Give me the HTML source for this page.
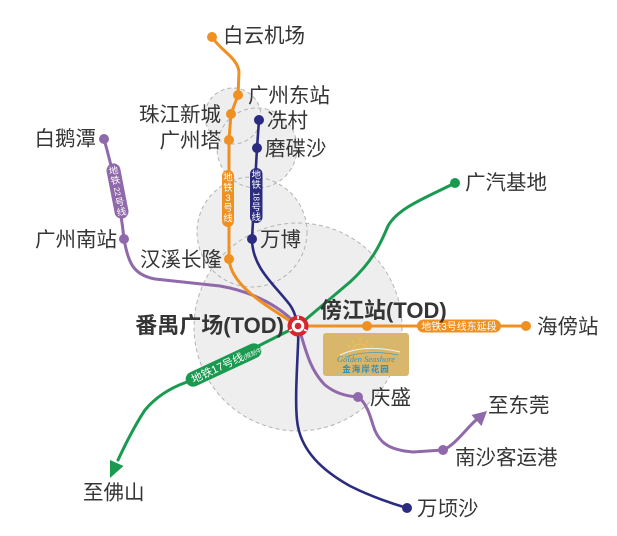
<!DOCTYPE html>
<html><head><meta charset="utf-8"><style>
html,body{margin:0;padding:0;background:#fff;}
svg{display:block;}
.lb{font-family:"Liberation Sans","Noto Sans CJK SC",sans-serif;font-size:20.5px;fill:#353535;}
.bd{font-family:"Liberation Sans","Noto Sans CJK SC",sans-serif;font-size:22px;font-weight:bold;fill:#353535;}
.pt{font-family:"Liberation Sans","Noto Sans CJK SC",sans-serif;font-size:9.5px;fill:#fff;}
.dg{font-family:"Liberation Sans",sans-serif;font-size:8px;fill:#fff;}
</style></head><body>
<svg width="617" height="536" viewBox="0 0 617 536" xmlns="http://www.w3.org/2000/svg">
<rect width="617" height="536" fill="#fff"/>
<!-- circle fills -->
<g fill="#eeeeee">
<circle cx="298" cy="327" r="104"/>
<circle cx="252" cy="232" r="55"/>
<circle cx="257" cy="148" r="40"/>
<circle cx="233" cy="116" r="28"/>
</g>
<g fill="none" stroke="#b4b4b4" stroke-width="1" stroke-dasharray="4 3">
<circle cx="298" cy="327" r="104"/>
<circle cx="252" cy="232" r="55"/>
<circle cx="257" cy="148" r="40"/>
<circle cx="233" cy="116" r="28"/>
</g>
<!-- lines -->
<g fill="none" stroke-width="3" stroke-linecap="round" stroke-linejoin="round">
<path stroke="#1a9a50" d="M455,183 C425,198 398,208 388,226 C380,245 372,262 350,282 L298,326 L187,382 C170,388 155,398 145,410 C135,425 125,445 118,460"/>
<path stroke="#8f69aa" d="M104,139 C110,160 120,200 124,239 C128,262 133,275 155,279 L220,286 C255,292 282,308 298,326 C305,345 308,368 325,385 C335,393 345,396 358,397 C366,402 370,415 373,425 C378,442 388,450 413,452 L443,450 C455,445 465,430 476,420"/>
<path stroke="#ef9020" d="M212,37 C220,50 238,58 239,72 L238,95 L231,114 L229,140 L229,259 C231,285 262,303 298,326"/>
<path stroke="#ef9020" d="M298,326 L526,326"/>
<path stroke="#2b2c80" stroke-width="2.6" d="M259,120 L257,148 L252,239 C252,268 275,285 290,305 C297,315 299,328 298,345 C297,370 295,400 297,420 C300,452 325,472 350,486 C372,497 390,503 407,508"/>
</g>
<!-- arrowheads -->
<polygon fill="#8f69aa" points="487,411 481.5,426 471.5,415"/>
<polygon fill="#1a9a50" points="110,478 110,460 123.5,466"/>
<!-- pills -->
<rect x="222" y="170" width="12" height="57" rx="6" fill="#ef9020"/>
<text class="pt" x="228" y="180.5" text-anchor="middle">地</text>
<text class="pt" x="228" y="191" text-anchor="middle">铁</text>
<text class="pt" x="228" y="201" text-anchor="middle">3</text>
<text class="pt" x="228" y="211" text-anchor="middle">号</text>
<text class="pt" x="228" y="221.5" text-anchor="middle">线</text>

<rect x="250" y="168" width="12.5" height="55" rx="6" fill="#2b2c80"/>
<text class="pt" x="256.3" y="178" text-anchor="middle">地</text>
<text class="pt" x="256.3" y="188" text-anchor="middle">铁</text>
<g transform="translate(256.3,196.5) rotate(90)"><text class="dg" x="0" y="3" text-anchor="middle">18</text></g>
<text class="pt" x="256.3" y="210.5" text-anchor="middle">号</text>
<text class="pt" x="256.3" y="220.5" text-anchor="middle">线</text>

<g transform="translate(117.5,191) rotate(-11)">
<rect x="-7" y="-28" width="14" height="56" rx="7" fill="#8f69aa"/>
<text class="pt" x="0" y="-17.5" text-anchor="middle">地</text>
<text class="pt" x="0" y="-7.5" text-anchor="middle">铁</text>
<g transform="translate(0,0.5) rotate(90)"><text class="dg" x="0" y="3" text-anchor="middle">22</text></g>
<text class="pt" x="0" y="14.5" text-anchor="middle">号</text>
<text class="pt" x="0" y="24.5" text-anchor="middle">线</text>
</g>
<g transform="translate(223.5,365) rotate(-25)">
<rect x="-41" y="-7.5" width="82" height="15" rx="7.5" fill="#1a9a50"/>
<text class="pt" x="-35" y="4" style="font-size:11px">地铁17号线<tspan style="font-size:6px">(规划中)</tspan></text>
</g>
<rect x="417" y="319.5" width="84" height="13" rx="6.5" fill="#ef9020"/>
<text class="pt" x="459" y="330" text-anchor="middle" style="font-size:10px">地铁3号线东延段</text>
<!-- logo -->
<rect x="323" y="333" width="86" height="43" rx="3" fill="#d8b76b"/>
<g stroke="#f5c34a" stroke-width="1" fill="none">
<path d="M352,352 A8,8 0 0 1 368,352"/>
<line x1="360" y1="341" x2="360" y2="338"/><line x1="354" y1="343" x2="352" y2="340"/><line x1="366" y1="343" x2="368" y2="340"/><line x1="350" y1="347" x2="347" y2="345"/><line x1="370" y1="347" x2="373" y2="345"/>
</g>
<path d="M340,355 C355,348 375,346 400,352" stroke="#eef4f4" stroke-width="1" fill="none"/>
<path d="M345,357 C360,352 380,351 398,355" stroke="#4aa0bb" stroke-width="0.8" fill="none"/>
<text x="366" y="362" text-anchor="middle" style="font-family:'Liberation Serif',serif;font-style:italic;font-size:8.5px;fill:#3d93b0">Golden Seashore</text>
<text x="366" y="372" text-anchor="middle" style="font-family:'Liberation Sans','Noto Sans CJK SC',sans-serif;font-weight:bold;font-size:8.5px;fill:#2e8fb8;letter-spacing:1px">金海岸花园</text>
<!-- dots -->
<g fill="#ef9020">
<circle cx="212" cy="37" r="5"/><circle cx="238" cy="95" r="5"/><circle cx="231" cy="114" r="5"/><circle cx="229" cy="140" r="5"/><circle cx="229" cy="259" r="5"/><circle cx="367" cy="326" r="5"/><circle cx="526" cy="326" r="5"/>
</g>
<g fill="#2b2c80">
<circle cx="259" cy="120" r="5"/><circle cx="257" cy="148" r="5"/><circle cx="252" cy="239" r="5"/><circle cx="407" cy="508" r="5"/>
</g>
<g fill="#8f69aa">
<circle cx="104" cy="139" r="5"/><circle cx="124" cy="239" r="5"/><circle cx="358" cy="397" r="5"/><circle cx="443" cy="450" r="5"/>
</g>
<circle cx="455" cy="183" r="5" fill="#1a9a50"/>
<!-- station -->
<circle cx="298" cy="326" r="10.5" fill="#d7262f"/>
<circle cx="298" cy="326" r="6.3" fill="#fff"/>
<circle cx="298" cy="326" r="3.3" fill="#d7262f"/>
<g stroke="#fff" stroke-width="1.8">
<line x1="298" y1="319" x2="298" y2="316"/>
<line x1="292" y1="329.5" x2="289.3" y2="331"/>
<line x1="304" y1="329.5" x2="306.7" y2="331"/>
</g>
<!-- labels -->
<text class="lb" x="223" y="42.5">白云机场</text>
<text class="lb" x="248" y="102.5">广州东站</text>
<text class="lb" x="221" y="121.5" text-anchor="end">珠江新城</text>
<text class="lb" x="221" y="147.5" text-anchor="end">广州塔</text>
<text class="lb" x="267" y="127.5">冼村</text>
<text class="lb" x="265" y="155.5">磨碟沙</text>
<text class="lb" x="96" y="145.5" text-anchor="end">白鹅潭</text>
<text class="lb" x="117" y="246.5" text-anchor="end">广州南站</text>
<text class="lb" x="260" y="246.5">万博</text>
<text class="lb" x="222" y="266.5" text-anchor="end">汉溪长隆</text>
<text class="lb" x="465" y="189.5">广汽基地</text>
<text class="lb" x="537" y="333.5">海傍站</text>
<text class="lb" x="370" y="404.5">庆盛</text>
<text class="lb" x="488" y="412.5">至东莞</text>
<text class="lb" x="455" y="464.5">南沙客运港</text>
<text class="lb" x="417" y="515.5">万顷沙</text>
<text class="lb" x="83" y="499.5">至佛山</text>
<text class="bd" x="284" y="333" text-anchor="end">番禺广场(TOD)</text>
<text class="bd" x="320" y="318">傍江站(TOD)</text>
</svg>
</body></html>
